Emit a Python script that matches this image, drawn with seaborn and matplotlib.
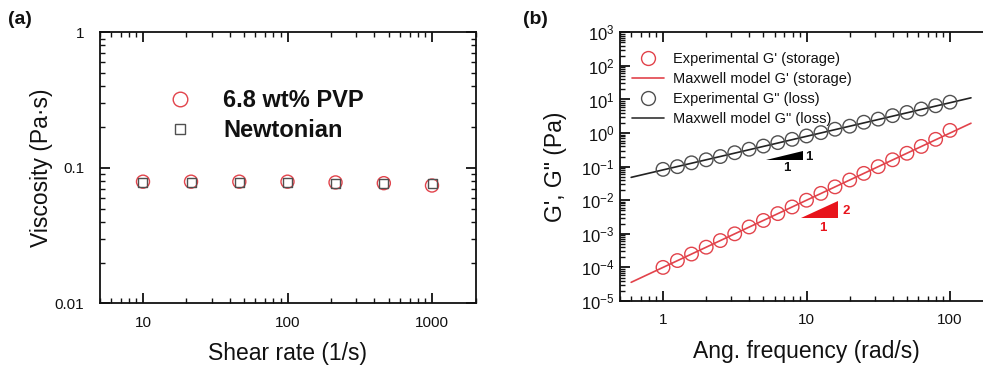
import numpy as np
import seaborn as sns
import matplotlib.pyplot as plt
from matplotlib.lines import Line2D
from matplotlib.ticker import LogLocator, FixedLocator, FixedFormatter, NullFormatter

# (a) viscosity vs shear rate
shear_rate = [10, 21.5, 46.4, 100, 215, 464, 1000]
visc_pvp = [0.079, 0.079, 0.079, 0.079, 0.078, 0.077, 0.074]
visc_newt = [0.078, 0.078, 0.078, 0.078, 0.077, 0.077, 0.076]

# (b) moduli vs angular frequency
freq = [1.0, 1.26, 1.58, 2.0, 2.51, 3.16, 3.98, 5.01, 6.31, 7.94, 10,
        12.6, 15.8, 20.0, 25.1, 31.6, 39.8, 50.1, 63.1, 79.4, 100]
g_storage = [1.0e-4, 1.6e-4, 2.5e-4, 4.0e-4, 6.3e-4, 1.0e-3, 1.6e-3, 2.5e-3,
             4.0e-3, 6.3e-3, 1.0e-2, 1.6e-2, 2.5e-2, 4.0e-2, 6.3e-2, 0.10,
             0.16, 0.25, 0.40, 0.65, 1.2]
g_loss = [0.083, 0.10, 0.13, 0.16, 0.20, 0.26, 0.33, 0.41, 0.52, 0.65, 0.82,
          1.03, 1.3, 1.6, 2.1, 2.6, 3.3, 4.1, 5.2, 6.5, 8.3]
freq_model = [0.6, 1, 10, 100, 140]
g_storage_model = [3.6e-5, 1.0e-4, 1.0e-2, 1.0, 1.96]
g_loss_model = [0.048, 0.08, 0.8, 8.0, 11.2]

# slope triangles
tri_loss_x = [5.2, 9.5, 9.5]
tri_loss_y = [0.155, 0.155, 0.29]
tri_storage_x = [9.2, 16.6, 16.6]
tri_storage_y = [2.9e-3, 2.9e-3, 9.3e-3]

RED = '#e2434b'
GRAY = '#505050'
INK = '#111111'

sns.set_style('ticks')
plt.rcParams['font.family'] = ['Liberation Sans', 'DejaVu Sans']
plt.rcParams['mathtext.fontset'] = 'custom'
plt.rcParams['mathtext.rm'] = 'Liberation Sans'
plt.rcParams['axes.unicode_minus'] = False
plt.rcParams['text.color'] = INK
plt.rcParams['axes.labelcolor'] = INK

W, H = 983, 365
fig = plt.figure(figsize=(W / 100, H / 100), dpi=100)

def px_axes(l, r, t, b):
    return fig.add_axes([l / W, 1 - b / H, (r - l) / W, (b - t) / H])

def style_axes(ax):
    for s in ax.spines.values():
        s.set_linewidth(1.3)
        s.set_color(INK)
    ax.tick_params(which='both', direction='in', top=True, right=True,
                   colors=INK, labelcolor=INK)
    ax.tick_params(which='major', length=7.5, width=1.3, labelsize=11)
    ax.tick_params(which='minor', length=3.8, width=1.0)

# ---------------- panel (a)
ax1 = px_axes(99.5, 475.5, 32.3, 303.3)
sns.scatterplot(x=shear_rate, y=visc_pvp, ax=ax1, marker='o', s=88,
                facecolor='none', edgecolor=RED, linewidth=1.0, zorder=3)
sns.scatterplot(x=shear_rate, y=visc_newt, ax=ax1, marker='s', s=42,
                facecolor='none', edgecolor=GRAY, linewidth=1.0, zorder=3)
ax1.set_xscale('log')
ax1.set_yscale('log')
ax1.set_xlim(5, 2000)
ax1.set_ylim(0.01, 1)
style_axes(ax1)
ax1.xaxis.set_major_locator(FixedLocator([10, 100, 1000]))
ax1.xaxis.set_major_formatter(FixedFormatter(['10', '100', '1000']))
ax1.yaxis.set_major_locator(FixedLocator([0.01, 0.1, 1]))
ax1.yaxis.set_major_formatter(FixedFormatter(['0.01', '0.1', '1']))
ax1.xaxis.set_minor_locator(LogLocator(base=10, subs=np.arange(2, 10), numticks=100))
ax1.yaxis.set_minor_locator(LogLocator(base=10, subs=np.arange(2, 10), numticks=100))
ax1.xaxis.set_minor_formatter(NullFormatter())
ax1.yaxis.set_minor_formatter(NullFormatter())
ax1.tick_params(axis='x', which='major', pad=9)
ax1.tick_params(axis='y', which='major', pad=11)
ax1.set_xlabel('Shear rate (1/s)', fontsize=16.5, labelpad=9)
ax1.set_ylabel('Viscosity (Pa·s)', fontsize=16.5, labelpad=1)

handles_a = [
    Line2D([], [], ls='none', marker='o', ms=10.5, mfc='none', mec=RED, mew=1.0),
    Line2D([], [], ls='none', marker='s', ms=6.5, mfc='none', mec=GRAY, mew=1.0),
]
ax1.legend(handles_a, ['6.8 wt% PVP', 'Newtonian'], loc='upper left',
           bbox_to_anchor=(0.184, 0.79), frameon=False, borderpad=0, borderaxespad=0,
           handlelength=1.0, handletextpad=1.3, labelspacing=0.28,
           prop={'weight': 'bold', 'size': 17})

fig.text(8 / W, 1 - 20 / H, '(a)', fontsize=14, fontweight='bold', va='center', ha='left')

# ---------------- panel (b)
ax2 = px_axes(619.8, 993.2, 32.3, 301)
sns.lineplot(x=freq_model, y=g_storage_model, ax=ax2, color=RED, linewidth=1.2, zorder=2)
sns.lineplot(x=freq_model, y=g_loss_model, ax=ax2, color='#222222', linewidth=1.2, zorder=2)
sns.scatterplot(x=freq, y=g_storage, ax=ax2, marker='o', s=95,
                facecolor='none', edgecolor=RED, linewidth=1.0, zorder=3)
sns.scatterplot(x=freq, y=g_loss, ax=ax2, marker='o', s=95,
                facecolor='none', edgecolor=GRAY, linewidth=1.0, zorder=3)
ax2.fill(tri_loss_x, tri_loss_y, color='black', lw=0)
ax2.fill(tri_storage_x, tri_storage_y, color='#e8141c', lw=0)
ax2.text(10.4, 0.2, '1', fontsize=9.5, fontweight='bold', ha='center', va='center')
ax2.text(7.3, 0.089, '1', fontsize=9.5, fontweight='bold', ha='center', va='center')
ax2.text(18.8, 4.7e-3, '2', fontsize=9.5, fontweight='bold', ha='center', va='center', color='#e8141c')
ax2.text(13.0, 1.5e-3, '1', fontsize=9.5, fontweight='bold', ha='center', va='center', color='#e8141c')

ax2.set_xscale('log')
ax2.set_yscale('log')
ax2.set_xlim(0.5, 200)
ax2.set_ylim(1e-5, 1e3)
style_axes(ax2)
ax2.xaxis.set_major_locator(FixedLocator([1, 10, 100]))
ax2.xaxis.set_major_formatter(FixedFormatter(['1', '10', '100']))
ax2.yaxis.set_major_locator(LogLocator(base=10, numticks=20))
ax2.xaxis.set_minor_locator(LogLocator(base=10, subs=np.arange(2, 10), numticks=100))
ax2.yaxis.set_minor_locator(LogLocator(base=10, subs=np.arange(2, 10), numticks=100))
ax2.xaxis.set_minor_formatter(NullFormatter())
ax2.yaxis.set_minor_formatter(NullFormatter())
ax2.tick_params(axis='x', which='major', pad=9)
ax2.tick_params(axis='y', which='major', pad=4, labelsize=12)
ax2.set_xlabel('Ang. frequency (rad/s)', fontsize=16.5, labelpad=9)
ax2.set_ylabel('G\', G" (Pa)', fontsize=16.5, labelpad=10)

handles_b = [
    Line2D([], [], ls='none', marker='o', ms=10, mfc='none', mec=RED, mew=1.0),
    Line2D([], [], color=RED, lw=1.2),
    Line2D([], [], ls='none', marker='o', ms=10, mfc='none', mec=GRAY, mew=1.0),
    Line2D([], [], color='#333333', lw=1.2),
]
labels_b = ["Experimental G' (storage)", "Maxwell model G' (storage)",
            'Experimental G" (loss)', 'Maxwell model G" (loss)']
ax2.legend(handles_b, labels_b, loc='upper left', bbox_to_anchor=(0.032, 0.925),
           frameon=False, borderpad=0, borderaxespad=0, handlelength=2.2,
           handletextpad=0.6, labelspacing=0.40, fontsize=10.5)

fig.text(523 / W, 1 - 20 / H, '(b)', fontsize=14, fontweight='bold', va='center', ha='left')

fig.savefig('out.png', dpi=100)
